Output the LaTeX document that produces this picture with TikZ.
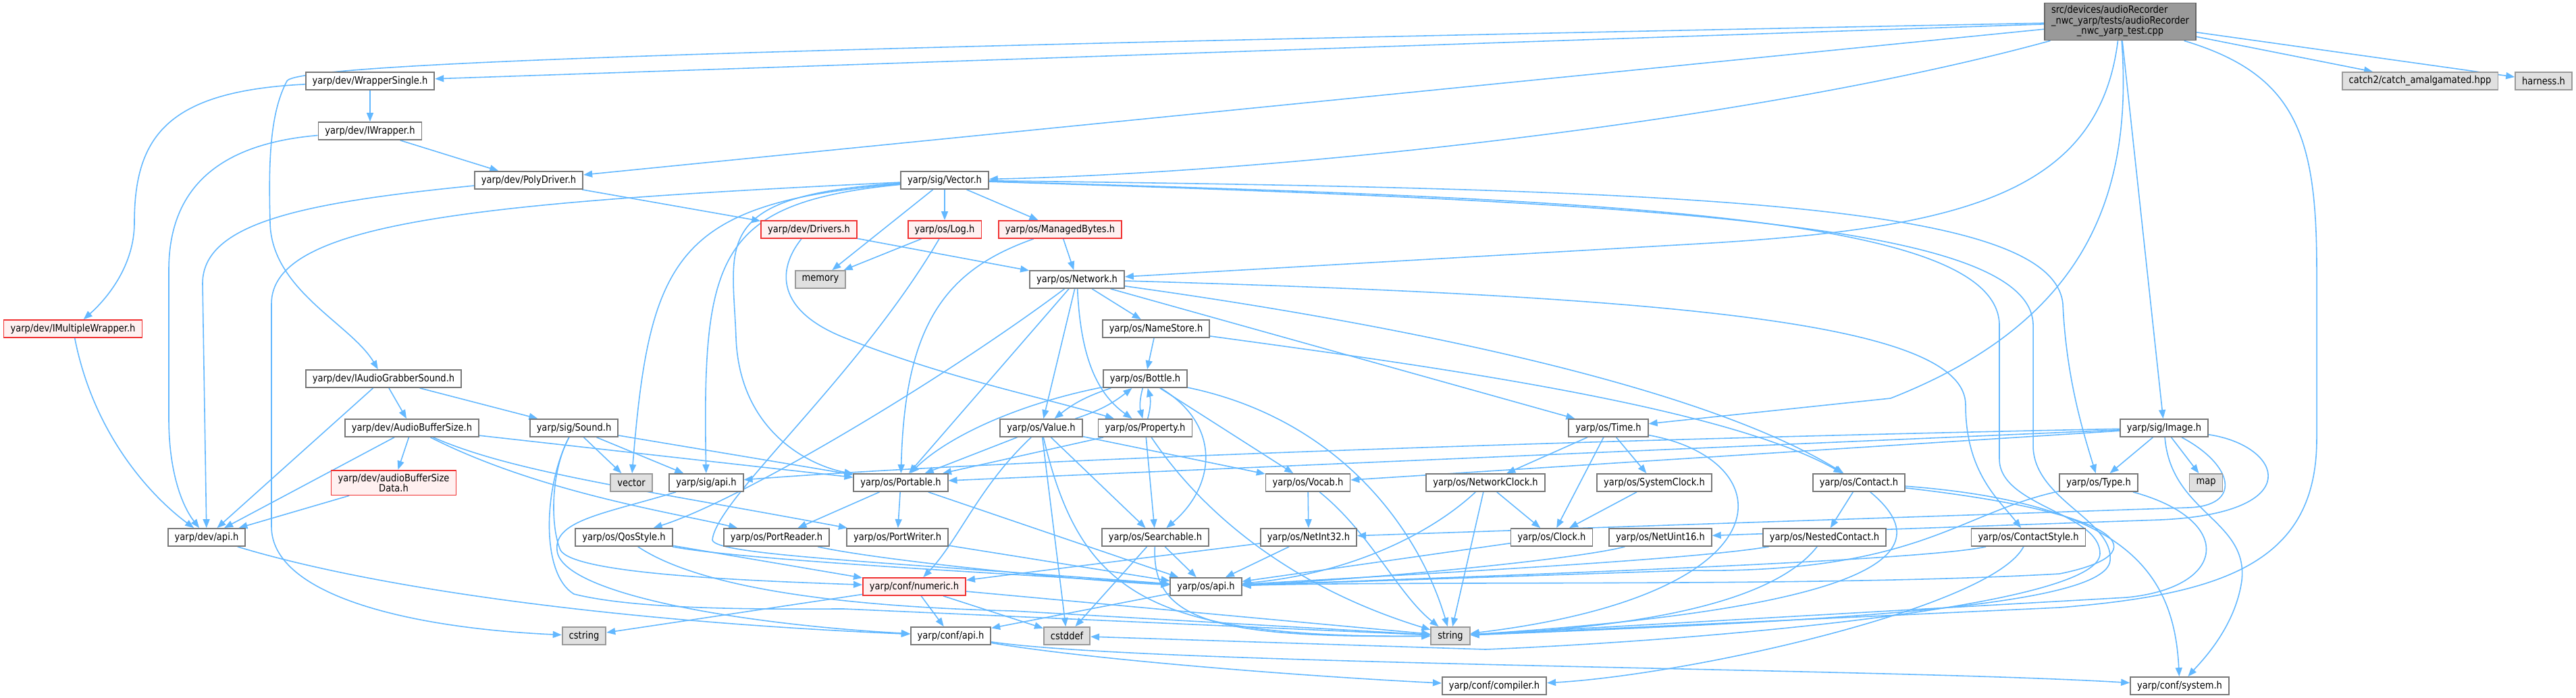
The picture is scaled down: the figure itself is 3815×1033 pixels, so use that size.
\documentclass[tikz,border=0pt]{standalone}
\usepackage{fontspec}
\setmainfont{DejaVu Sans}[FakeStretch=0.87]
\usepackage{tikz}
\usetikzlibrary{arrows.meta, backgrounds}
\definecolor{edgeblue}{RGB}{99,184,255}
\definecolor{boxline}{RGB}{120,120,120}
\definecolor{cutline}{RGB}{240,50,50}
\definecolor{cutfill}{RGB}{255,240,240}
\definecolor{sysline}{RGB}{153,153,153}
\definecolor{sysfill}{RGB}{224,224,224}
\definecolor{rootline}{RGB}{102,102,102}
\definecolor{rootfill}{RGB}{153,153,153}
\newcommand{\doxfont}{\fontsize{4.27pt}{4.3pt}\selectfont}
\tikzstyle{hdr}    = [rectangle, draw=boxline, line width=0.5pt, fill=white,
                      minimum height=0.26cm, inner xsep=0.1cm, inner ysep=0.05cm, font=\doxfont]
\tikzstyle{cuthdr} = [hdr, draw=cutline, fill=cutfill]
\tikzstyle{syshdr} = [hdr, draw=sysline, fill=sysfill]
\tikzstyle{arr}    = [-{Triangle[length=0.13cm, width=0.1cm]}, draw=edgeblue, line width=0.45pt]

\begin{document}
\begin{tikzpicture}[x=0.01cm, y=-0.01cm,
      roothdr/.style={hdr, draw=rootline, fill=rootfill, inner ysep=0.04cm},
    ]
    \useasboundingbox (0,0) rectangle (3815,1033);

    \node[roothdr] (top) at (3140,32)
      {\begin{tabular}{@{}l@{}}src/devices/audioRecorder\\\_nwc\_yarp/tests/audioRecorder\\
       \multicolumn{1}{@{}c@{}}{\_nwc\_yarp\_test.cpp}\end{tabular}};

    \node[hdr]    (wrapsingle)    at (548,120)   {yarp/dev/WrapperSingle.h};
    \node[syshdr] (catchamal)     at (3584,120)  {catch2/catch\_amalgamated.hpp};
    \node[syshdr] (harness)       at (3767,120)  {harness.h};
    \node[hdr]    (iwrapper)      at (548,194)   {yarp/dev/IWrapper.h};
    \node[hdr]    (polydriver)    at (783,267)   {yarp/dev/PolyDriver.h};
    \node[hdr]    (sigvector)     at (1399,267)  {yarp/sig/Vector.h};
    \node[cuthdr] (drivers)       at (1198,340)  {yarp/dev/Drivers.h};
    \node[cuthdr] (oslog)         at (1399,340)  {yarp/os/Log.h};
    \node[cuthdr] (managedbytes)  at (1570,340)  {yarp/os/ManagedBytes.h};
    \node[syshdr] (memory)        at (1215,414)  {memory};
    \node[hdr]    (network)       at (1595,414)  {yarp/os/Network.h};
    \node[cuthdr] (imultwrapper)  at (108,487)   {yarp/dev/IMultipleWrapper.h};
    \node[hdr]    (namestore)     at (1712,487)  {yarp/os/NameStore.h};
    \node[hdr]    (iaudiograbber) at (568,561)   {yarp/dev/IAudioGrabberSound.h};
    \node[hdr]    (bottle)        at (1696,561)  {yarp/os/Bottle.h};
    \node[hdr]    (audiobufsize)  at (610,634)   {yarp/dev/AudioBufferSize.h};
    \node[hdr]    (sigsound)      at (850,634)   {yarp/sig/Sound.h};
    \node[hdr]    (osvalue)       at (1542,634)  {yarp/os/Value.h};
    \node[hdr]    (property)      at (1696,634)  {yarp/os/Property.h};
    \node[hdr]    (ostime)        at (2382,634)  {yarp/os/Time.h};
    \node[hdr]    (sigimage)      at (3205,634)  {yarp/sig/Image.h};
    \node[cuthdr, align=center] (bufsizedata) at (583,715) {yarp/dev/audioBufferSize\\Data.h};
    \node[syshdr] (vector)        at (935,715)   {vector};
    \node[hdr]    (sigapi)        at (1046,715)  {yarp/sig/api.h};
    \node[hdr]    (portable)      at (1334,715)  {yarp/os/Portable.h};
    \node[hdr]    (vocab)         at (1937,715)  {yarp/os/Vocab.h};
    \node[hdr]    (netclock)      at (2200,715)  {yarp/os/NetworkClock.h};
    \node[hdr]    (sysclock)      at (2450,715)  {yarp/os/SystemClock.h};
    \node[hdr]    (contact)       at (2753,715)  {yarp/os/Contact.h};
    \node[hdr]    (ostype)        at (3108,715)  {yarp/os/Type.h};
    \node[syshdr] (map)           at (3267,715)  {map};
    \node[hdr]    (devapi)        at (306,796)   {yarp/dev/api.h};
    \node[hdr]    (qosstyle)      at (924,796)   {yarp/os/QosStyle.h};
    \node[hdr]    (portreader)    at (1150,796)  {yarp/os/PortReader.h};
    \node[hdr]    (portwriter)    at (1329,796)  {yarp/os/PortWriter.h};
    \node[hdr]    (searchable)    at (1711,796)  {yarp/os/Searchable.h};
    \node[hdr]    (netint32)      at (1938,796)  {yarp/os/NetInt32.h};
    \node[hdr]    (osclock)       at (2298,796)  {yarp/os/Clock.h};
    \node[hdr]    (netuint16)     at (2459,796)  {yarp/os/NetUint16.h};
    \node[hdr]    (nestedcontact) at (2702,796)  {yarp/os/NestedContact.h};
    \node[hdr]    (contactstyle)  at (3004,796)  {yarp/os/ContactStyle.h};
    \node[cuthdr] (numeric)       at (1354,869)  {yarp/conf/numeric.h};
    \node[hdr]    (osapi)         at (1786,869)  {yarp/os/api.h};
    \node[syshdr] (cstring)       at (865,942)   {cstring};
    \node[hdr]    (confapi)       at (1408,942)  {yarp/conf/api.h};
    \node[syshdr] (cstddef)       at (1580,942)  {cstddef};
    \node[syshdr] (string)        at (2148,942)  {string};
    \node[hdr]    (compiler)      at (2213,1016) {yarp/conf/compiler.h};
    \node[hdr]    (system)        at (3228,1016) {yarp/conf/system.h};

    \begin{scope}[on background layer]
    % the test file
    \draw[arr] (top) -- (wrapsingle);
    \draw[arr] (top) .. controls (1200,70) and (440,92) .. (425,120)
        .. controls (398,170) and (398,250) .. (400,330)
        .. controls (402,430) and (520,480) .. (iaudiograbber);
    \draw[arr] (top) -- (polydriver);
    \draw[arr] (top) .. controls (2600,180) and (1900,255) .. (sigvector);
    \draw[arr] (top) .. controls (3108,290) and (2900,340) .. (2500,362) -- (network);
    \draw[arr] (top) .. controls (3160,300) and (3080,480) .. (2800,590) -- (ostime);
    \draw[arr] (top) -- (sigimage);
    \draw[arr] (top) .. controls (3400,110) and (3431,200) .. (3431,400) -- (3431,650)
        .. controls (3431,830) and (3300,880) .. (3050,900) -- (string);
    \draw[arr] (top) -- (catchamal);
    \draw[arr] (top) -- (harness);

    % wrappers and drivers
    \draw[arr] (wrapsingle) -- (iwrapper);
    \draw[arr] (wrapsingle) .. controls (250,135) and (199,200) .. (199,330)
        .. controls (199,400) and (150,450) .. (imultwrapper);
    \draw[arr] (iwrapper) -- (polydriver);
    \draw[arr] (iwrapper) .. controls (300,215) and (250,300) .. (250,400) -- (250,620)
        .. controls (250,700) and (270,750) .. (devapi);
    \draw[arr] (imultwrapper) .. controls (140,650) and (230,740) .. (devapi);
    \draw[arr] (polydriver) -- (drivers);
    \draw[arr] (polydriver) .. controls (450,300) and (300,330) .. (300,420) -- (devapi);

    % audio
    \draw[arr] (iaudiograbber) -- (audiobufsize);
    \draw[arr] (iaudiograbber) -- (sigsound);
    \draw[arr] (iaudiograbber) -- (devapi);
    \draw[arr] (audiobufsize) -- (bufsizedata);
    \draw[arr] (audiobufsize) -- (devapi);
    \draw[arr] (audiobufsize) -- (portable);
    \draw[arr] (audiobufsize) .. controls (800,730) and (1000,760) .. (portreader);
    \draw[arr] (audiobufsize) .. controls (760,700) and (950,725) .. (portwriter);
    \draw[arr] (bufsizedata) -- (devapi);
    \draw[arr] (sigsound) -- (vector);
    \draw[arr] (sigsound) -- (sigapi);
    \draw[arr] (sigsound) -- (portable);
    \draw[arr] (sigsound) .. controls (815,700) and (815,780) .. (830,815)
        .. controls (850,850) and (1100,860) .. (numeric);
    \draw[arr] (sigsound) .. controls (805,720) and (800,850) .. (850,880)
        .. controls (950,905) and (1150,902) .. (1250,902) -- (string);
    \draw[arr] (sigapi) .. controls (900,760) and (820,770) .. (825,815)
        .. controls (830,880) and (1100,925) .. (confapi);
    \draw[arr] (devapi) .. controls (550,870) and (900,920) .. (confapi);

    % vector
    \draw[arr] (sigvector) .. controls (700,300) and (402,330) .. (402,450) -- (402,780)
        .. controls (402,880) and (600,930) .. (cstring);
    \draw[arr] (sigvector) .. controls (1000,300) and (962,380) .. (vector);
    \draw[arr] (sigvector) .. controls (1060,300) and (1040,380) .. (sigapi);
    \draw[arr] (sigvector) .. controls (1050,290) and (1085,360) .. (1090,500)
        .. controls (1095,640) and (1200,690) .. (portable);
    \draw[arr] (sigvector) -- (memory);
    \draw[arr] (sigvector) -- (oslog);
    \draw[arr] (sigvector) -- (managedbytes);
    \draw[arr] (sigvector) .. controls (2500,280) and (3040,300) .. (3055,450)
        .. controls (3060,560) and (3085,640) .. (ostype);
    \draw[arr] (sigvector) .. controls (2400,295) and (2955,320) .. (2961,480) -- (2961,680)
        .. controls (2961,750) and (3110,760) .. (3110,820)
        .. controls (3110,900) and (2500,950) .. (2200,962) -- (cstddef);
    \draw[arr] (sigvector) .. controls (2450,300) and (3005,330) .. (3011,480) -- (3011,660)
        .. controls (3011,740) and (3130,770) .. (3125,830)
        .. controls (3120,900) and (2700,920) .. (string);

    % log, bytes, drivers
    \draw[arr] (oslog) -- (memory);
    \draw[arr] (oslog) .. controls (1270,560) and (1060,740) .. (1055,800)
        .. controls (1060,822) and (1300,832) .. (osapi);
    \draw[arr] (managedbytes) -- (network);
    \draw[arr] (managedbytes) .. controls (1400,400) and (1340,480) .. (portable);
    \draw[arr] (drivers) -- (network);
    \draw[arr] (drivers) .. controls (1150,400) and (1150,460) .. (1250,500)
        .. controls (1400,560) and (1550,590) .. (property);

    % network
    \draw[arr] (network) -- (namestore);
    \draw[arr] (network) -- (osvalue);
    \draw[arr] (network) .. controls (1600,520) and (1620,580) .. (property);
    \draw[arr] (network) -- (portable);
    \draw[arr] (network) .. controls (1400,560) and (1100,740) .. (qosstyle);
    \draw[arr] (network) -- (ostime);
    \draw[arr] (network) .. controls (2000,470) and (2500,560) .. (contact);
    \draw[arr] (network) .. controls (2500,440) and (2911,480) .. (2911,600)
        .. controls (2911,700) and (2960,740) .. (contactstyle);
    \draw[arr] (namestore) -- (bottle);
    \draw[arr] (namestore) .. controls (2100,540) and (2550,600) .. (contact);

    % bottle, value, property
    \draw[arr] (bottle) to[bend right=10] (osvalue);
    \draw[arr] (osvalue) to[bend right=10] (bottle);
    \draw[arr] (bottle) to[bend right=15] (property);
    \draw[arr] (property) to[bend right=15] (bottle);
    \draw[arr] (bottle) .. controls (1500,600) and (1400,650) .. (portable);
    \draw[arr] (bottle) .. controls (1810,630) and (1800,720) .. (searchable);
    \draw[arr] (bottle) -- (vocab);
    \draw[arr] (bottle) .. controls (1980,620) and (2100,780) .. (string);
    \draw[arr] (osvalue) -- (portable);
    \draw[arr] (osvalue) -- (searchable);
    \draw[arr] (osvalue) -- (vocab);
    \draw[arr] (osvalue) .. controls (1450,720) and (1420,800) .. (numeric);
    \draw[arr] (osvalue) -- (cstddef);
    \draw[arr] (osvalue) .. controls (1600,880) and (1700,945) .. (string);
    \draw[arr] (property) -- (portable);
    \draw[arr] (property) -- (searchable);
    \draw[arr] (property) .. controls (1760,730) and (1880,860) .. (string);
    \draw[arr] (searchable) -- (osapi);
    \draw[arr] (searchable) -- (cstddef);
    \draw[arr] (searchable) .. controls (1705,920) and (1800,945) .. (string);

    % vocab, time, clocks
    \draw[arr] (vocab) -- (netint32);
    \draw[arr] (vocab) .. controls (2030,790) and (2070,880) .. (string);
    \draw[arr] (netint32) -- (numeric);
    \draw[arr] (netint32) -- (osapi);
    \draw[arr] (ostime) -- (netclock);
    \draw[arr] (ostime) -- (sysclock);
    \draw[arr] (ostime) -- (osclock);
    \draw[arr] (ostime) .. controls (2640,680) and (2660,880) .. (string);
    \draw[arr] (netclock) -- (osclock);
    \draw[arr] (netclock) .. controls (2120,790) and (2000,850) .. (osapi);
    \draw[arr] (netclock) -- (string);
    \draw[arr] (sysclock) -- (osclock);
    \draw[arr] (osclock) -- (osapi);
    \draw[arr] (netuint16) .. controls (2330,830) and (2000,860) .. (osapi);

    % contact, type
    \draw[arr] (contact) -- (nestedcontact);
    \draw[arr] (contact) .. controls (2880,820) and (2780,900) .. (string);
    \draw[arr] (contact) .. controls (3150,760) and (3200,820) .. (3050,850)
        .. controls (2700,870) and (2100,860) .. (osapi);
    \draw[arr] (contact) .. controls (3150,745) and (3220,850) .. (system);
    \draw[arr] (nestedcontact) .. controls (2500,830) and (2100,850) .. (osapi);
    \draw[arr] (nestedcontact) .. controls (2620,900) and (2400,930) .. (string);
    \draw[arr] (contactstyle) .. controls (2850,830) and (2300,850) .. (osapi);
    \draw[arr] (contactstyle) .. controls (2950,900) and (2500,1000) .. (compiler);
    \draw[arr] (ostype) .. controls (2900,760) and (2840,850) .. (2500,845) -- (osapi);
    \draw[arr] (ostype) .. controls (3310,770) and (3300,870) .. (3150,885) -- (string);

    % image
    \draw[arr] (sigimage) -- (ostype);
    \draw[arr] (sigimage) -- (map);
    \draw[arr] (sigimage) .. controls (3215,760) and (3330,770) .. (3320,860)
        .. controls (3310,930) and (3260,980) .. (system);
    \draw[arr] (sigimage) .. controls (3310,690) and (3320,750) .. (3240,752) -- (netint32);
    \draw[arr] (sigimage) .. controls (3380,660) and (3420,760) .. (3200,770) -- (netuint16);
    \draw[arr] (sigimage) -- (vocab);
    \draw[arr] (sigimage) .. controls (2400,650) and (1500,680) .. (sigapi);
    \draw[arr] (sigimage) -- (portable);

    % api and conf
    \draw[arr] (portable) -- (portreader);
    \draw[arr] (portable) -- (portwriter);
    \draw[arr] (portable) -- (osapi);
    \draw[arr] (portreader) .. controls (1300,830) and (1600,860) .. (osapi);
    \draw[arr] (portwriter) -- (osapi);
    \draw[arr] (qosstyle) .. controls (1100,830) and (1500,850) .. (osapi);
    \draw[arr] (qosstyle) -- (numeric);
    \draw[arr] (qosstyle) .. controls (1050,880) and (1300,900) .. (1500,905) -- (string);
    \draw[arr] (osapi) -- (confapi);
    \draw[arr] (numeric) -- (confapi);
    \draw[arr] (numeric) -- (cstddef);
    \draw[arr] (numeric) -- (string);
    \draw[arr] (numeric) -- (cstring);
    \draw[arr] (confapi) .. controls (1600,975) and (1900,1000) .. (compiler);
    \draw[arr] (confapi) .. controls (1700,985) and (2800,990) .. (system);
    \end{scope}
\end{tikzpicture}
\end{document}
